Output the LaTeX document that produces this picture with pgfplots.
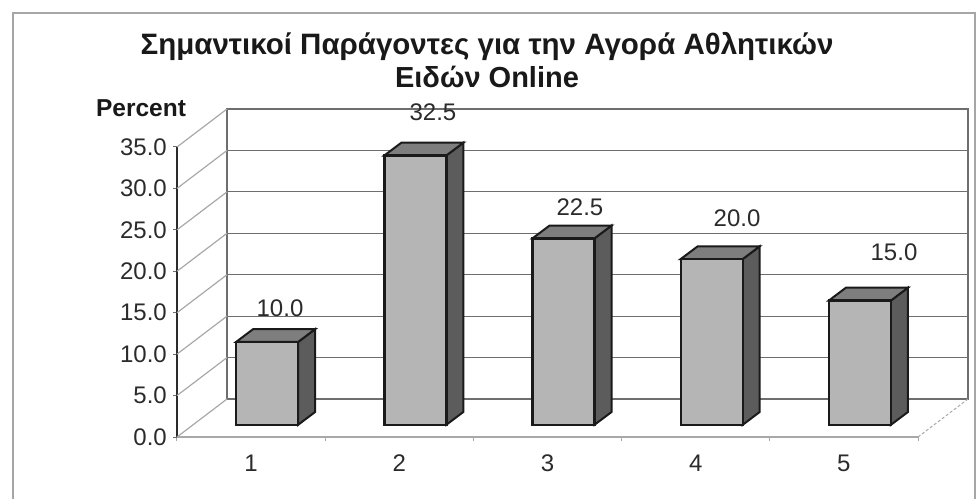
\documentclass[border=0pt]{standalone}
\usepackage{pgfplots}
\pgfplotsset{compat=1.18}
\usepackage{fontspec}
\setmainfont{Liberation Sans}
\definecolor{frontc}{HTML}{B5B5B5}
\definecolor{sidec}{HTML}{5C5C5C}
\definecolor{topc}{HTML}{7E7E7E}
\definecolor{edgec}{HTML}{1A1A1A}
\definecolor{gridc}{HTML}{6E6E6E}
\definecolor{diagc}{HTML}{A8A8A8}
\definecolor{textc}{HTML}{2B2B2B}
\begin{document}
\begin{tikzpicture}
\path[use as bounding box] (-177pt,-61pt) rectangle (800pt,437pt);
\draw[gray!70, line width=1.5pt] (-164pt,-70pt) -- (-164pt,424pt) -- (798pt,424pt) -- (798pt,-70pt);
\begin{axis}[
  at={(0pt,0pt)}, anchor=south west,
  scale only axis, width=741pt, height=290pt,
  xmin=0.5, xmax=5.5, ymin=0, ymax=35,
  clip=false,
  axis x line*=bottom, axis y line*=left,
  x axis line style={draw=diagc, line width=1.5pt, -},
  y axis line style={draw=textc, line width=1.5pt, -},
  xtick={1,2,3,4,5},
  xticklabels={1,2,3,4,5},
  ytick={0,5,...,35},
  minor xtick={0.5,1.5,2.5,3.5,4.5,5.5},
  major x tick style={draw=none},
  minor x tick style={draw=diagc, line width=1pt},
  minor tick length=4pt,
  major tick length=4pt,
  tick align=outside,
  ytick style={draw=gridc, line width=1pt},
  tick label style={font=\fontsize{24pt}{24pt}\selectfont, text=textc},
  yticklabel style={inner sep=0pt, xshift=-6pt},
  xticklabel style={inner sep=0pt, yshift=-14pt},
  /pgf/number format/.cd, fixed, fixed zerofill, precision=1, assume math mode=true,
]
% back wall
\addplot[gridc, line width=1.2pt] coordinates {(0.8374,4.586) (5.8374,4.586) (5.8374,39.586) (0.8374,39.586)} -- cycle;
\addplot[gridc, line width=1.2pt, unbounded coords=jump] coordinates {
 (0.8374,9.586) (5.8374,9.586) (nan,nan)
 (0.8374,14.586) (5.8374,14.586) (nan,nan)
 (0.8374,19.586) (5.8374,19.586) (nan,nan)
 (0.8374,24.586) (5.8374,24.586) (nan,nan)
 (0.8374,29.586) (5.8374,29.586) (nan,nan)
 (0.8374,34.586) (5.8374,34.586)};
% side wall diagonals
\addplot[diagc, line width=1.2pt, unbounded coords=jump] coordinates {
 (0.5,0) (0.8374,4.586) (nan,nan)
 (0.5,5) (0.8374,9.586) (nan,nan)
 (0.5,10) (0.8374,14.586) (nan,nan)
 (0.5,15) (0.8374,19.586) (nan,nan)
 (0.5,20) (0.8374,24.586) (nan,nan)
 (0.5,25) (0.8374,29.586) (nan,nan)
 (0.5,30) (0.8374,34.586) (nan,nan)
 (0.5,35) (0.8374,39.586)};
\addplot[diagc, line width=1pt, densely dashed] coordinates {(5.5,0) (5.8374,4.586)};
% bar side faces
\addplot[fill=sidec, draw=edgec, line width=2pt] coordinates {(1.3172,1.472) (1.4319,3.017) (1.4319,13.017) (1.3172,11.472)} -- cycle;
\addplot[fill=sidec, draw=edgec, line width=2pt] coordinates {(2.3172,1.472) (2.4319,3.017) (2.4319,35.517) (2.3172,33.972)} -- cycle;
\addplot[fill=sidec, draw=edgec, line width=2pt] coordinates {(3.3172,1.472) (3.4319,3.017) (3.4319,25.517) (3.3172,23.972)} -- cycle;
\addplot[fill=sidec, draw=edgec, line width=2pt] coordinates {(4.3172,1.472) (4.4319,3.017) (4.4319,23.017) (4.3172,21.472)} -- cycle;
\addplot[fill=sidec, draw=edgec, line width=2pt] coordinates {(5.3172,1.472) (5.4319,3.017) (5.4319,18.017) (5.3172,16.472)} -- cycle;
% bar top faces
\addplot[fill=topc, draw=edgec, line width=2pt] coordinates {(0.8988,11.472) (1.3172,11.472) (1.4319,13.017) (1.0135,13.017)} -- cycle;
\addplot[fill=topc, draw=edgec, line width=2pt] coordinates {(1.8988,33.972) (2.3172,33.972) (2.4319,35.517) (2.0135,35.517)} -- cycle;
\addplot[fill=topc, draw=edgec, line width=2pt] coordinates {(2.8988,23.972) (3.3172,23.972) (3.4319,25.517) (3.0135,25.517)} -- cycle;
\addplot[fill=topc, draw=edgec, line width=2pt] coordinates {(3.8988,21.472) (4.3172,21.472) (4.4319,23.017) (4.0135,23.017)} -- cycle;
\addplot[fill=topc, draw=edgec, line width=2pt] coordinates {(4.8988,16.472) (5.3172,16.472) (5.4319,18.017) (5.0135,18.017)} -- cycle;
% bar front faces (data)
\addplot[ybar, bar width=62pt, bar shift=0pt, fill=frontc, draw=edgec, line width=2.4pt, xshift=16pt, yshift=12.2pt]
  coordinates {(1,10) (2,32.5) (3,22.5) (4,20) (5,15)};
% value labels
\addplot[draw=none, mark=none, nodes near coords, point meta=explicit symbolic,
  nodes near coords style={anchor=center, inner sep=0pt, font=\fontsize{24pt}{24pt}\selectfont, text=textc}]
  coordinates {(1.195,15.57)[10.0] (2.227,39.22)[32.5] (3.219,27.76)[22.5] (4.279,26.43)[20.0] (5.338,22.33)[15.0]};
\end{axis}
\node[anchor=base, inner sep=0pt, text=black!90] at (310pt,382pt) {\bfseries\fontsize{29.5pt}{32pt}\selectfont Σημαντικοί Παράγοντες για την Αγορά Αθλητικών};
\node[anchor=base, inner sep=0pt, text=black!90] at (310pt,349pt) {\bfseries\fontsize{29pt}{32pt}\selectfont Ειδών Online};
\node[anchor=base, inner sep=0pt, text=black!90] at (-36pt,320pt) {\bfseries\fontsize{24.5pt}{24pt}\selectfont Percent};
\end{tikzpicture}
\end{document}
